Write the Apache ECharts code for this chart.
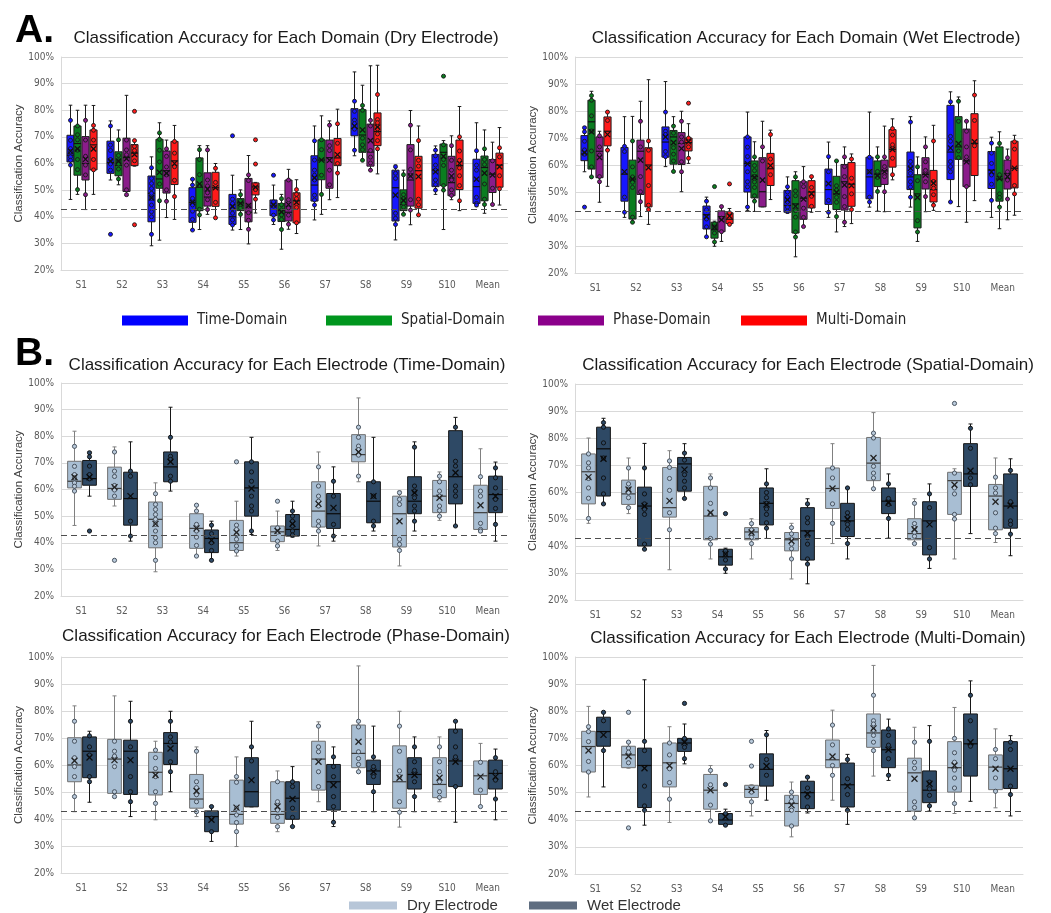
<!DOCTYPE html>
<html>
<head>
<meta charset="utf-8">
<script src="https://cdn.jsdelivr.net/npm/echarts@6.0.0/dist/echarts.min.js"></script>
<style>
  html, body { margin: 0; padding: 0; background: #ffffff; }
  #chart { width: 1051px; height: 913px; }
</style>
</head>
<body>
<div id="chart"></div>
<script>
// ---- data -------------------------------------------------------------
const categories = ['S1', 'S2', 'S3', 'S4', 'S5', 'S6', 'S7', 'S8', 'S9', 'S10', 'Mean'];
const domainNames = ['Time-Domain', 'Spatial-Domain', 'Phase-Domain', 'Multi-Domain'];
const electrodeNames = ['Dry Electrode', 'Wet Electrode'];
const chanceLevel = 43;

// each row: [whisker low, Q1, median, Q3, whisker high, mean] (accuracy %)
const timeDry = [
  [46.5, 60.6, 63.1, 70.6, 81.9, 64.6], [53.8, 56.3, 60.4, 68.4, 76.0, 60.9],
  [29.1, 38.1, 48.8, 55.3, 62.5, 47.1], [35.0, 37.9, 45.4, 50.9, 54.1, 45.4],
  [35.0, 37.1, 40.0, 48.4, 55.6, 43.8], [37.1, 40.4, 44.1, 46.3, 51.9, 44.4],
  [38.8, 45.9, 51.9, 62.9, 74.1, 54.6], [62.9, 70.4, 73.1, 80.6, 94.4, 74.1],
  [31.3, 38.4, 50.9, 57.5, 59.4, 48.1], [48.4, 51.3, 57.5, 63.4, 66.6, 56.9],
  [43.8, 45.0, 51.3, 61.6, 75.3, 54.1]
];
const timeDryPts = [
  [76.2, 68.7, 65.6, 64.4, 62.5, 61.2, 59.4], [74.1, 66.9, 64.9, 61.5, 59.8, 57.5, 33.4],
  [58.4, 54.4, 52.5, 50.6, 48.8, 46.9, 44.4, 41.9, 40.0, 33.4], [54.1, 51.9, 46.9, 44.4, 42.1, 39.0, 35.0],
  [70.4, 46.6, 45.0, 43.1, 41.3, 38.8, 36.9], [55.6, 45.6, 44.0, 40.6, 38.8],
  [68.5, 61.3, 57.5, 55.6, 53.8, 48.1, 46.3, 44.4], [83.4, 79.6, 76.3, 75.0, 72.9, 65.0],
  [58.8, 56.3, 54.4, 41.3, 39.4, 37.1], [65.0, 62.9, 59.4, 57.5, 53.8, 52.1, 50.0],
  [64.8, 59.4, 57.5, 47.3, 45.0, 44.4]
];
const timeWet = [
  [57.5, 61.6, 64.1, 70.9, 74.1, 64.6], [40.6, 46.6, 56.6, 66.5, 77.9, 57.5],
  [59.4, 62.9, 68.5, 74.1, 90.9, 70.4], [33.4, 36.3, 41.6, 44.8, 48.1, 40.9],
  [43.1, 50.0, 60.6, 70.4, 79.6, 60.4], [42.1, 42.5, 45.0, 50.6, 55.6, 47.1],
  [40.6, 45.4, 50.9, 58.5, 68.5, 53.1], [44.4, 47.5, 55.6, 62.9, 79.6, 57.5],
  [44.4, 50.9, 55.6, 64.8, 77.9, 58.8], [46.3, 54.6, 64.8, 82.1, 87.1, 66.3],
  [40.6, 51.3, 58.1, 65.0, 70.3, 57.5]
];
const timeWetPts = [
  [73.8, 72.3, 68.8, 65.6, 64.0, 44.4], [66.9, 65.0, 48.1, 42.5],
  [79.6, 72.5, 71.3, 65.0, 63.1], [46.6, 43.4, 40.0, 37.1, 33.4],
  [70.4, 66.6, 63.1, 57.5, 53.8, 51.9, 44.4], [51.9, 50.0, 48.1, 46.3, 44.4, 42.9],
  [63.1, 57.5, 46.9, 42.5], [62.9, 57.5, 48.1, 46.3],
  [75.9, 61.3, 59.4, 56.9, 53.8, 51.9, 48.1], [83.4, 70.6, 68.8, 61.3, 59.4, 57.5, 46.3],
  [68.1, 64.4, 60.6, 56.3, 52.9, 46.9]
];
const spatialDry = [
  [48.4, 55.6, 67.5, 74.1, 80.0, 65.5], [52.0, 55.4, 59.3, 64.4, 72.6, 60.9],
  [31.2, 50.7, 54.2, 69.1, 75.3, 56.7], [35.2, 42.3, 51.1, 62.1, 66.7, 52.3],
  [35.2, 42.3, 45.2, 46.8, 50.1, 45.0], [27.8, 38.2, 42.3, 45.0, 48.4, 41.9],
  [40.9, 53.9, 61.3, 68.9, 77.9, 61.3], [61.2, 64.2, 70.7, 80.2, 89.4, 72.6],
  [40.9, 42.3, 44.6, 50.1, 57.5, 46.2], [35.2, 51.7, 64.2, 67.3, 68.6, 62.7],
  [41.3, 46.0, 58.5, 62.8, 72.6, 56.4]
];
const spatialDryPts = [
  [74.1, 70.8, 68.9, 65.0, 61.5, 57.7, 50.2], [68.9, 63.0, 61.0, 59.8, 57.9, 54.2],
  [71.5, 69.1, 65.0, 60.6, 52.3, 46.0], [65.2, 61.5, 55.8, 51.8, 42.8, 40.7],
  [48.3, 46.0, 44.4, 43.2, 40.9], [46.8, 44.5, 42.6, 40.7, 39.0, 35.2],
  [68.9, 65.2, 55.6, 48.4], [81.8, 80.0, 69.5, 67.0, 65.2, 61.2],
  [55.8, 48.3, 46.8, 45.0, 43.6, 40.9], [92.8, 67.0, 61.5, 59.3, 51.7, 50.0],
  [65.5, 61.5, 59.6, 52.3, 46.6, 44.6]
];
const spatialWet = [
  [55.6, 58.5, 76.0, 84.0, 87.3, 72.3], [38.8, 40.0, 54.8, 61.8, 78.0, 54.8],
  [57.6, 60.3, 70.4, 72.8, 77.9, 68.3], [29.9, 32.9, 36.0, 38.8, 39.2, 37.0],
  [42.8, 47.8, 55.8, 61.5, 68.6, 55.4], [26.0, 34.8, 45.6, 54.2, 57.5, 44.7],
  [35.2, 43.5, 49.3, 55.8, 61.5, 49.9], [42.9, 52.0, 56.6, 61.5, 66.7, 56.0],
  [31.7, 36.7, 49.3, 56.4, 63.0, 48.0], [44.6, 62.1, 66.7, 77.9, 85.2, 67.9],
  [36.4, 46.6, 54.8, 66.7, 72.3, 55.0]
];
const spatialWetPts = [
  [85.7, 84.0, 78.2, 72.6, 65.2, 59.3, 55.6], [68.9, 59.3, 55.6, 53.6, 51.7, 40.7, 38.8],
  [74.4, 71.8, 66.4, 64.0, 61.5, 57.6], [52.0, 38.2, 37.0, 34.8, 31.5],
  [63.0, 59.8, 57.9, 55.8, 53.7, 51.7, 48.6, 46.6], [55.6, 50.4, 48.6, 43.1, 40.7, 35.2, 33.3],
  [61.5, 52.3, 50.7, 48.0, 46.2, 40.9], [63.0, 57.6, 55.4, 50.2],
  [59.3, 54.2, 39.4, 35.2], [83.6, 76.2, 65.2, 62.7],
  [68.0, 56.4, 49.3, 48.0, 44.4]
];
const phaseDry = [
  [42.7, 53.8, 60.0, 70.1, 81.9, 61.6], [47.9, 49.5, 62.2, 69.5, 85.6, 61.8],
  [39.7, 48.9, 57.3, 64.7, 68.8, 56.3], [40.9, 44.0, 47.4, 56.5, 66.7, 50.4],
  [29.8, 38.1, 41.7, 54.4, 63.0, 44.2], [35.3, 38.4, 41.7, 53.8, 57.8, 44.6],
  [46.4, 50.7, 62.2, 68.8, 76.0, 61.2], [57.5, 59.0, 64.3, 74.8, 96.7, 68.6],
  [37.0, 44.0, 53.8, 67.1, 79.9, 55.3], [46.4, 47.9, 52.8, 62.7, 70.4, 55.3],
  [44.6, 49.1, 56.0, 61.5, 68.0, 55.7]
];
const phaseDryPts = [
  [76.2, 68.8, 62.7, 59.4, 55.7, 48.3], [68.8, 65.1, 63.3, 59.4, 50.1, 48.3],
  [65.5, 62.7, 58.7, 55.7, 50.1, 45.8], [65.1, 53.8, 51.6, 49.0, 46.4, 42.7],
  [55.7, 53.6, 44.0, 41.5, 38.7, 35.3], [53.8, 46.4, 43.3, 40.6, 37.2],
  [74.4, 66.7, 64.9, 57.5, 52.0], [76.2, 74.1, 64.9, 62.4, 60.2, 57.5],
  [74.4, 65.1, 57.8, 55.7, 46.4, 42.5], [66.7, 61.2, 57.5, 53.8, 50.1, 48.0],
  [61.0, 50.7, 44.6]
];
const phaseWet = [
  [46.2, 55.3, 65.1, 70.4, 72.5, 62.8], [40.9, 49.1, 65.1, 69.2, 83.6, 61.8],
  [50.1, 60.2, 68.0, 72.0, 79.9, 66.1], [31.7, 35.3, 40.9, 43.0, 44.6, 39.7],
  [44.5, 44.5, 50.1, 62.7, 76.2, 54.4], [37.2, 39.9, 47.7, 53.8, 59.4, 47.4],
  [37.2, 43.3, 53.8, 60.2, 66.7, 52.6], [42.7, 52.8, 57.8, 61.8, 74.4, 57.5],
  [42.7, 51.1, 56.5, 62.7, 70.4, 56.3], [38.8, 52.0, 61.5, 73.3, 76.2, 61.2],
  [39.7, 51.1, 56.9, 61.8, 65.9, 55.7]
];
const phaseWetPts = [
  [70.8, 66.7, 63.7, 55.7, 53.8], [76.2, 66.7, 55.7, 50.1, 46.4],
  [76.2, 70.4, 68.5, 61.2, 57.5], [44.6, 40.3, 35.3],
  [66.7, 61.5], [53.8, 52.0, 44.0, 40.6, 37.2],
  [63.0, 59.4, 55.7, 48.3, 44.6, 38.8], [63.0, 59.4, 55.7, 50.1],
  [66.7, 61.2, 58.0, 53.8, 48.3], [76.2, 72.5, 66.7, 63.0, 52.0],
  [62.7, 57.5, 54.4, 47.4]
];
const multiDry = [
  [48.4, 57.6, 67.0, 72.6, 81.8, 65.5], [59.0, 59.2, 63.9, 67.1, 68.6, 63.4],
  [39.0, 52.1, 61.0, 68.3, 74.3, 60.0], [39.6, 43.9, 50.9, 56.7, 60.0, 50.9],
  [41.4, 48.2, 51.2, 52.7, 52.9, 51.1], [33.7, 37.7, 46.0, 49.0, 53.9, 45.4],
  [47.2, 59.2, 62.1, 69.4, 80.4, 63.3], [56.1, 66.7, 72.0, 79.0, 96.9, 73.7],
  [40.7, 43.2, 57.3, 62.7, 74.1, 55.1], [42.3, 50.2, 59.2, 68.8, 81.4, 60.0],
  [44.4, 51.1, 59.4, 63.9, 73.5, 58.8]
];
const multiDryPts = [
  [74.3, 72.5, 68.8, 61.5, 57.6], [79.6, 68.6, 66.4, 64.9, 61.0, 37.0],
  [68.3, 63.9, 58.8, 53.7, 47.6], [58.2, 52.9, 45.4, 39.6],
  [68.9, 59.8, 50.2, 46.6], [50.2, 48.4, 46.8, 43.5, 37.7],
  [74.9, 67.6, 60.0, 56.4], [85.9, 76.5, 75.3, 73.0, 71.1, 68.6, 65.5],
  [68.6, 61.2, 59.0, 46.6, 44.5, 40.7], [70.0, 64.7, 61.2, 58.3, 55.4, 51.7, 46.0],
  [65.9, 62.5, 55.4, 50.5]
];
const multiWet = [
  [52.1, 67.1, 72.5, 77.8, 79.6, 71.3], [38.0, 44.5, 60.0, 66.4, 91.6, 59.0],
  [60.6, 65.2, 68.3, 70.0, 75.3, 68.6], [38.0, 38.3, 39.9, 42.3, 43.9, 41.1],
  [47.2, 52.4, 58.6, 64.3, 72.9, 59.8], [42.5, 44.1, 50.0, 54.2, 55.7, 49.4],
  [38.3, 44.7, 52.9, 60.9, 64.1, 52.4], [54.5, 59.2, 65.8, 73.1, 77.1, 65.8],
  [43.2, 46.3, 50.9, 58.0, 74.7, 53.3], [46.8, 56.1, 68.0, 79.0, 91.2, 68.6],
  [41.4, 51.5, 58.8, 68.8, 71.0, 58.8]
];
const multiWetPts = [
  [79.6, 76.5, 65.5], [68.9, 65.5, 52.4, 45.1, 43.5],
  [82.9, 70.0, 66.7, 62.5], [53.0, 42.3, 38.0],
  [71.3, 62.2, 56.4], [55.7, 51.7, 48.4, 44.7],
  [62.2, 55.1, 49.3, 43.5], [73.5, 71.1, 67.5, 62.5, 56.4],
  [68.9, 53.9, 51.4, 49.0, 45.1], [85.9, 76.5, 67.1],
  [68.6, 65.9, 52.4, 49.3]
];

// ---- styling ----------------------------------------------------------
const SANS = "'Liberation Sans', Arial, sans-serif";
const NARROW = "'Liberation Sans Narrow', 'DejaVu Sans Condensed', 'Liberation Sans', sans-serif";

function domainLook(fill, legend) {
  return { fill, legend, border: '#1c1c1c', whisker: '#1c1c1c', median: '#111111', mean: '#111111',
           ptFill: fill, ptStroke: '#1a1a1a', r: 2, cap: 1.8, x: 2.6 };
}
const domainLooks = [
  domainLook('#1616ff', '#0000ff'),
  domainLook('#0b7d20', '#00961e'),
  domainLook('#8a1c8a', '#8b008b'),
  domainLook('#ff1a1a', '#ff0000')
];
const dryLook = { fill: '#a8bed3', legend: '#b7c6d8', border: '#707070', whisker: '#808080', median: '#3c3c3c',
                  mean: '#222222', ptFill: '#b9cadb', ptStroke: '#3d4753', r: 2.1, cap: 2, x: 3 };
const wetLook = { fill: '#2e4965', legend: '#5f6d80', border: '#161616', whisker: '#161616', median: '#0a0a0a',
                  mean: '#0a0a0a', ptFill: '#2e4965', ptStroke: '#0d0d0d', r: 2.1, cap: 2, x: 3 };

// ---- one box per category, placed in its slot inside the category band --
function boxRenderer(slotIdx, nSlots, groupFrac, gap, look, ptsList) {
  return function (params, api) {
    const cat = api.value(0);
    const band = api.size([1, 0])[0];
    const groupW = band * groupFrac;
    const slotW = groupW / nSlots;
    const w = slotW - gap;
    const cx = Math.round(api.coord([cat, 0])[0] - groupW / 2 + slotW * (slotIdx + 0.5)) + 0.5;
    const Y = v => api.coord([cat, v])[1];
    const mn = api.value(1), q1 = api.value(2), md = api.value(3);
    const q3 = api.value(4), mx = api.value(5), mean = api.value(6);
    const ws = { stroke: look.whisker, lineWidth: 1 };
    const ch = [
      { type: 'line', shape: { x1: cx, y1: Y(mx), x2: cx, y2: Y(q3) }, style: ws },
      { type: 'line', shape: { x1: cx, y1: Y(q1), x2: cx, y2: Y(mn) }, style: ws },
      { type: 'line', shape: { x1: cx - look.cap, y1: Y(mx), x2: cx + look.cap, y2: Y(mx) }, style: ws },
      { type: 'line', shape: { x1: cx - look.cap, y1: Y(mn), x2: cx + look.cap, y2: Y(mn) }, style: ws },
      { type: 'rect', shape: { x: cx - w / 2, y: Y(q3), width: w, height: Y(q1) - Y(q3) },
        style: { fill: look.fill, stroke: look.border, lineWidth: 1 } },
      { type: 'line', shape: { x1: cx - w / 2, y1: Y(md), x2: cx + w / 2, y2: Y(md) },
        style: { stroke: look.median, lineWidth: 1.2 } }
    ];
    (ptsList[params.dataIndex] || []).forEach(p => {
      ch.push({ type: 'circle', shape: { cx: cx, cy: Y(p), r: look.r },
                style: { fill: look.ptFill, stroke: look.ptStroke, lineWidth: 0.9 } });
    });
    const my = Y(mean), k = look.x;
    const ms = { stroke: look.mean, lineWidth: 1.3 };
    ch.push({ type: 'line', shape: { x1: cx - k, y1: my - k, x2: cx + k, y2: my + k }, style: ms });
    ch.push({ type: 'line', shape: { x1: cx - k, y1: my + k, x2: cx + k, y2: my - k }, style: ms });
    return { type: 'group', children: ch };
  };
}

// ---- panel layout -----------------------------------------------------
const panels = [
  { title: 'Classification Accuracy for Each Domain (Dry Electrode)', tx: 286, ty: 30,
    grid: { left: 61, top: 57, width: 447, height: 213 }, nameGap: 34,
    groups: [[domainNames[0], timeDry, timeDryPts, domainLooks[0]], [domainNames[1], spatialDry, spatialDryPts, domainLooks[1]],
             [domainNames[2], phaseDry, phaseDryPts, domainLooks[2]], [domainNames[3], multiDry, multiDryPts, domainLooks[3]]],
    frac: 0.76, gap: 0.6 },
  { title: 'Classification Accuracy for Each Domain (Wet Electrode)', tx: 806, ty: 30,
    grid: { left: 575, top: 57, width: 448, height: 216 }, nameGap: 33,
    groups: [[domainNames[0], timeWet, timeWetPts, domainLooks[0]], [domainNames[1], spatialWet, spatialWetPts, domainLooks[1]],
             [domainNames[2], phaseWet, phaseWetPts, domainLooks[2]], [domainNames[3], multiWet, multiWetPts, domainLooks[3]]],
    frac: 0.76, gap: 0.6 },
  { title: 'Classification Accuracy for Each Electrode (Time-Domain)', tx: 287, ty: 357,
    grid: { left: 61, top: 383, width: 447, height: 213 }, nameGap: 34,
    groups: [[electrodeNames[0], timeDry, timeDryPts, dryLook], [electrodeNames[1], timeWet, timeWetPts, wetLook]],
    frac: 0.75, gap: 1.5 },
  { title: 'Classification Accuracy for Each Electrode (Spatial-Domain)', tx: 808, ty: 357,
    grid: { left: 575, top: 384, width: 448, height: 216 }, nameGap: 33,
    groups: [[electrodeNames[0], spatialDry, spatialDryPts, dryLook], [electrodeNames[1], spatialWet, spatialWetPts, wetLook]],
    frac: 0.75, gap: 1.5 },
  { title: 'Classification Accuracy for Each Electrode (Phase-Domain)', tx: 286, ty: 628,
    grid: { left: 61, top: 657, width: 447, height: 216 }, nameGap: 34,
    groups: [[electrodeNames[0], phaseDry, phaseDryPts, dryLook], [electrodeNames[1], phaseWet, phaseWetPts, wetLook]],
    frac: 0.75, gap: 1.5 },
  { title: 'Classification Accuracy for Each Electrode (Multi-Domain)', tx: 808, ty: 630,
    grid: { left: 575, top: 657, width: 448, height: 217 }, nameGap: 33,
    groups: [[electrodeNames[0], multiDry, multiDryPts, dryLook], [electrodeNames[1], multiWet, multiWetPts, wetLook]],
    frac: 0.75, gap: 1.5 }
];

const grids = [], xAxes = [], yAxes = [], titles = [], series = [];
panels.forEach((p, gi) => {
  grids.push(Object.assign({ containLabel: false, outerBoundsMode: 'none' }, p.grid));
  titles.push({
    text: p.title, left: p.tx, top: p.ty, textAlign: 'center', padding: 0,
    textStyle: { fontFamily: SANS, fontSize: 17, fontWeight: 'normal', color: '#1a1a1a' }
  });
  xAxes.push({
    type: 'category', gridIndex: gi, data: categories, boundaryGap: true,
    axisTick: { show: false },
    axisLine: { lineStyle: { color: '#d9d9d9', width: 1 } },
    axisLabel: { fontFamily: NARROW, fontSize: 10, color: '#595959', margin: 10 }
  });
  yAxes.push({
    type: 'value', gridIndex: gi, min: 20, max: 100, interval: 10,
    name: 'Classification Accuracy', nameLocation: 'middle', nameGap: p.nameGap, nameRotate: 90,
    nameTextStyle: { fontFamily: SANS, fontSize: 11.5, color: '#404040' },
    axisLine: { show: true, lineStyle: { color: '#d9d9d9', width: 1 } },
    axisTick: { show: false },
    splitLine: { lineStyle: { color: '#d9d9d9', width: 1 } },
    axisLabel: { formatter: '{value}%', fontFamily: NARROW, fontSize: 10, color: '#595959', margin: 7 }
  });
  const n = p.groups.length;
  p.groups.forEach((g, si) => {
    const [name, stats, pts, look] = g;
    const s = {
      type: 'custom', name: name, xAxisIndex: gi, yAxisIndex: gi, coordinateSystem: 'cartesian2d',
      itemStyle: { color: look.legend },
      dimensions: ['cat', 'low', 'q1', 'median', 'q3', 'high', 'mean'],
      encode: { x: 0, y: [1, 2, 3, 4, 5, 6] },
      data: stats.map((row, i) => [i].concat(row)),
      renderItem: boxRenderer(si, n, p.frac, p.gap, look, pts),
      z: 2
    };
    if (si === n - 1) {
      s.markLine = {
        silent: true, symbol: 'none', z: 5,
        label: { show: false },
        lineStyle: { type: [6, 4], color: '#4d4d4d', width: 1.2 },
        data: [{ yAxis: chanceLevel }]
      };
    }
    series.push(s);
  });
});

const legendBase = {
  orient: 'horizontal', icon: 'rect', padding: 0, selectedMode: false,
  itemStyle: { borderWidth: 0 }
};
const domainLegendX = [122, 326, 538, 741];
const legends = domainNames.map((nm, i) => Object.assign({}, legendBase, {
  data: [{ name: nm, itemStyle: { color: domainLooks[i].legend } }],
  left: domainLegendX[i], top: 313, itemWidth: 66, itemHeight: 10,
  textStyle: { fontFamily: NARROW, fontSize: 15, color: '#262626', padding: [0, 0, 0, 4] }
}));
const electrodeLegendX = [349, 529];
electrodeNames.forEach((nm, i) => legends.push(Object.assign({}, legendBase, {
  data: [{ name: nm, itemStyle: { color: i === 0 ? dryLook.legend : wetLook.legend } }],
  left: electrodeLegendX[i], top: 898, itemWidth: 48, itemHeight: 8,
  textStyle: { fontFamily: SANS, fontSize: 15, color: '#333333', padding: [0, 0, 0, 5] }
})));

const chart = echarts.init(document.getElementById('chart'), null, { renderer: 'canvas' });
chart.setOption({
  backgroundColor: '#ffffff',
  animation: false,
  title: titles,
  legend: legends,
  grid: grids,
  xAxis: xAxes,
  yAxis: yAxes,
  series: series,
  graphic: [
    { type: 'text', left: 15, top: 12, style: { text: 'A.', font: "bold 39px " + SANS, fill: '#000000' } },
    { type: 'text', left: 15, top: 335, style: { text: 'B.', font: "bold 39px " + SANS, fill: '#000000' } }
  ]
});
</script>
</body>
</html>
